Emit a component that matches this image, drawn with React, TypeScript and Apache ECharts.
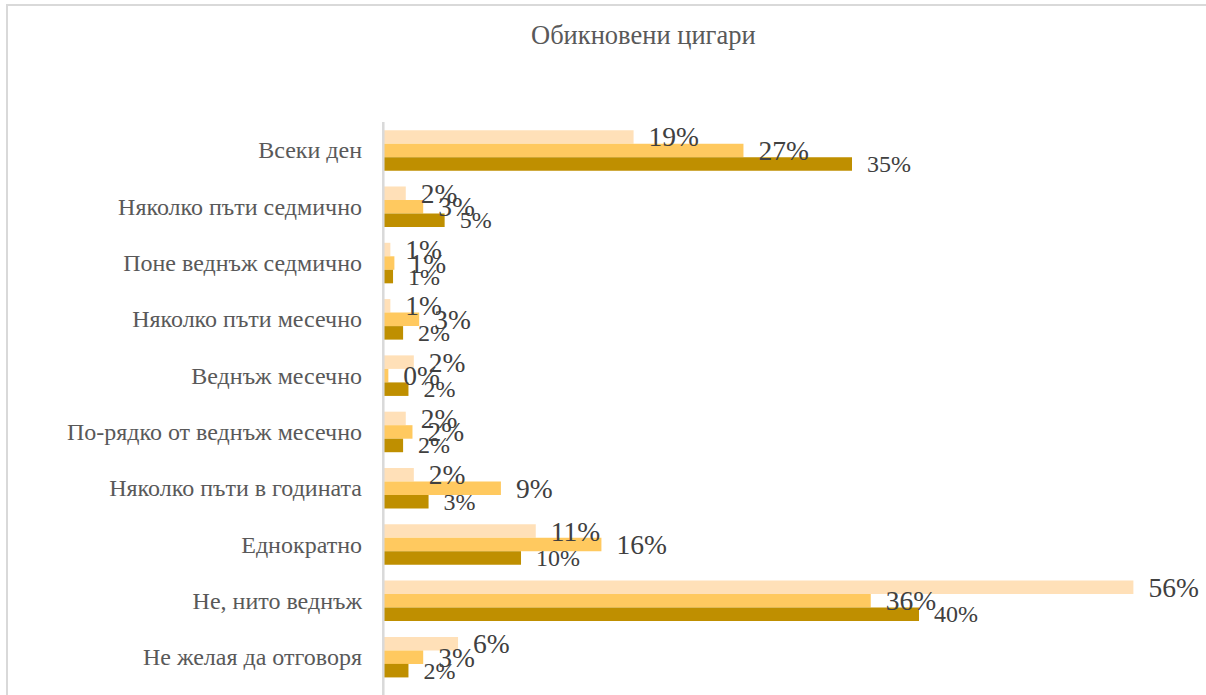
import React, { useEffect, useRef } from "react";
import * as echarts from "echarts";

const categories = [
  "Всеки ден",
  "Няколко пъти седмично",
  "Поне веднъж седмично",
  "Няколко пъти месечно",
  "Веднъж месечно",
  "По-рядко от веднъж месечно",
  "Няколко пъти в годината",
  "Еднократно",
  "Не, нито веднъж",
  "Не желая да отговоря",
];
const series1 = [18.7, 1.7, 0.55, 0.55, 2.3, 1.7, 2.3, 11.4, 56.0, 5.6];
const series2 = [26.9, 3.0, 0.85, 2.7, 0.4, 2.2, 8.8, 16.3, 36.4, 3.0];
const series3 = [35.0, 4.6, 0.75, 1.5, 1.9, 1.5, 3.4, 10.3, 40.0, 1.9];
const seriesNames = ["Група 1", "Група 2", "Група 3"];
const colors = ["#FFE0B8", "#FFC95F", "#BF8F00"];
const titleText = "Обикновени цигари";

const FONT = "'Liberation Serif', 'Times New Roman', serif";

export default function App() {
  const ref = useRef<HTMLDivElement>(null);
  useEffect(() => {
    if (!ref.current) return;
    const chart = echarts.init(ref.current, null, { renderer: "svg" });
    const mk = (name: string, data: number[], color: string, size: number) => ({
      name,
      type: "bar",
      data,
      barGap: "0%",
      barCategoryGap: "28%",
      itemStyle: { color },
      label: {
        show: true,
        position: "right",
        distance: 15,
        color: "#404040",
        fontFamily: FONT,
        fontSize: size,
        formatter: (p: any) => Math.round(p.value) + "%",
      },
    });
    chart.setOption({
      animation: false,
      backgroundColor: "#ffffff",
      title: {
        text: titleText,
        left: 526,
        top: 16,
        textStyle: { fontFamily: FONT, fontSize: 26.5, fontWeight: "normal", color: "#595959" },
      },
      grid: { left: 383, right: 19, top: 122.3, bottom: 9.7, containLabel: false },
      xAxis: { type: "value", min: 0, max: 60, show: false },
      yAxis: {
        type: "category",
        data: categories,
        inverse: true,
        axisLine: { show: false },
        axisTick: { show: false },
        axisLabel: { margin: 21, fontFamily: FONT, fontSize: 24, color: "#595959" },
      },
      graphic: [
        { type: "line", shape: { x1: 6, y1: 5, x2: 1206, y2: 5 }, style: { stroke: "#d9d9d9", lineWidth: 2 } },
        { type: "line", shape: { x1: 7, y1: 5, x2: 7, y2: 695 }, style: { stroke: "#d9d9d9", lineWidth: 2 } },
        { type: "line", z: 100, shape: { x1: 383.3, y1: 122, x2: 383.3, y2: 695 }, style: { stroke: "#d9d9d9", lineWidth: 2.5 } },
      ],
      series: [
        mk(seriesNames[0], series1, colors[0], 27.5),
        mk(seriesNames[1], series2, colors[1], 27.5),
        mk(seriesNames[2], series3, colors[2], 24),
      ],
    });
    return () => chart.dispose();
  }, []);
  return <div ref={ref} style={{ position: "fixed", left: 0, top: 0, width: 1206, height: 695 }} />;
}
